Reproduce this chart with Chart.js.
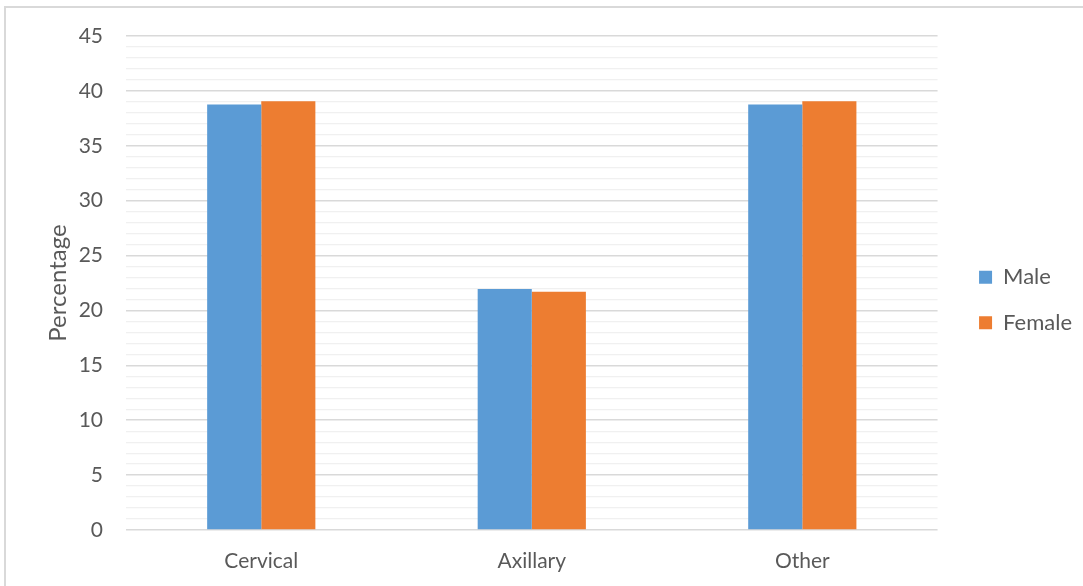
<!DOCTYPE html>
<html>
<head>
<meta charset="utf-8">
<title>Percentage by site and sex</title>
<script src="https://cdn.jsdelivr.net/npm/chart.js@4.4.1/dist/chart.umd.min.js"></script>
<style>
  html, body { margin: 0; padding: 0; background: #fff; overflow: hidden; }
  #frame {
    position: absolute; left: 4px; top: 6px;
    width: 1200px; height: 700px;
    border: 2px solid #d9d9d9;
  }
  #chart { position: absolute; left: 0; top: 0; }
</style>
</head>
<body>
<div id="frame"></div>
<canvas id="chart" width="1083" height="586"></canvas>
<script>
const categories = ['Cervical', 'Axillary', 'Other'];
const maleValues = [38.75, 21.95, 38.75];
const femaleValues = [39.05, 21.7, 39.05];
const yMin = 0;
const yMax = 45;
const majorStep = 5;

const textColor = '#595959';
const fontFamily = 'Lato, "Open Sans", sans-serif';

// nudge the legend block into place after Chart.js lays out the boxes
const legendOffset = {
  id: 'legendOffset',
  afterLayout(chart) {
    const l = chart.legend;
    if (!l) return;
    const dx = 18, dy = -11;
    l.left += dx; l.right += dx;
    l.top += dy; l.bottom += dy;
  }
};

const ctx = document.getElementById('chart').getContext('2d');

new Chart(ctx, {
  type: 'bar',
  data: {
    labels: categories,
    datasets: [
      {
        label: 'Male',
        data: maleValues,
        backgroundColor: '#5b9bd5',
        borderWidth: 0
      },
      {
        label: 'Female',
        data: femaleValues,
        backgroundColor: '#ed7d31',
        borderWidth: 0
      }
    ]
  },
  options: {
    responsive: false,
    animation: false,
    layout: { padding: { top: 36, right: 19, bottom: 0, left: 0 } },
    datasets: {
      bar: { categoryPercentage: 0.4, barPercentage: 1.0 }
    },
    scales: {
      x: {
        grid: { display: false, drawTicks: false },
        border: { display: false },
        ticks: {
          color: textColor,
          font: { family: fontFamily, size: 21 },
          padding: 19
        },
        afterFit: scale => { scale.height = 56; }
      },
      y: {
        min: yMin,
        max: yMax,
        border: { display: false },
        grid: {
          drawTicks: false,
          color: c => (c.tick && c.tick.value % majorStep === 0) ? '#d9d9d9' : '#f0f0f0',
          lineWidth: c => (c.tick && c.tick.value % majorStep === 0) ? 1.6 : 1.3
        },
        ticks: {
          stepSize: 1,
          autoSkip: false,
          color: textColor,
          font: { family: fontFamily, size: 21 },
          padding: 23,
          callback: v => (v % majorStep === 0 ? v : '')
        },
        title: {
          display: true,
          text: 'Percentage',
          color: textColor,
          font: { family: fontFamily, size: 24 },
          padding: { top: 44, bottom: 0 }
        },
        afterFit: scale => { scale.width = 126; }
      }
    },
    plugins: {
      legend: {
        position: 'right',
        labels: {
          boxWidth: 13,
          boxHeight: 13,
          padding: 23.5,
          color: textColor,
          font: { family: fontFamily, size: 22 }
        }
      },
      tooltip: { enabled: false }
    }
  },
  plugins: [legendOffset]
});
</script>
</body>
</html>
